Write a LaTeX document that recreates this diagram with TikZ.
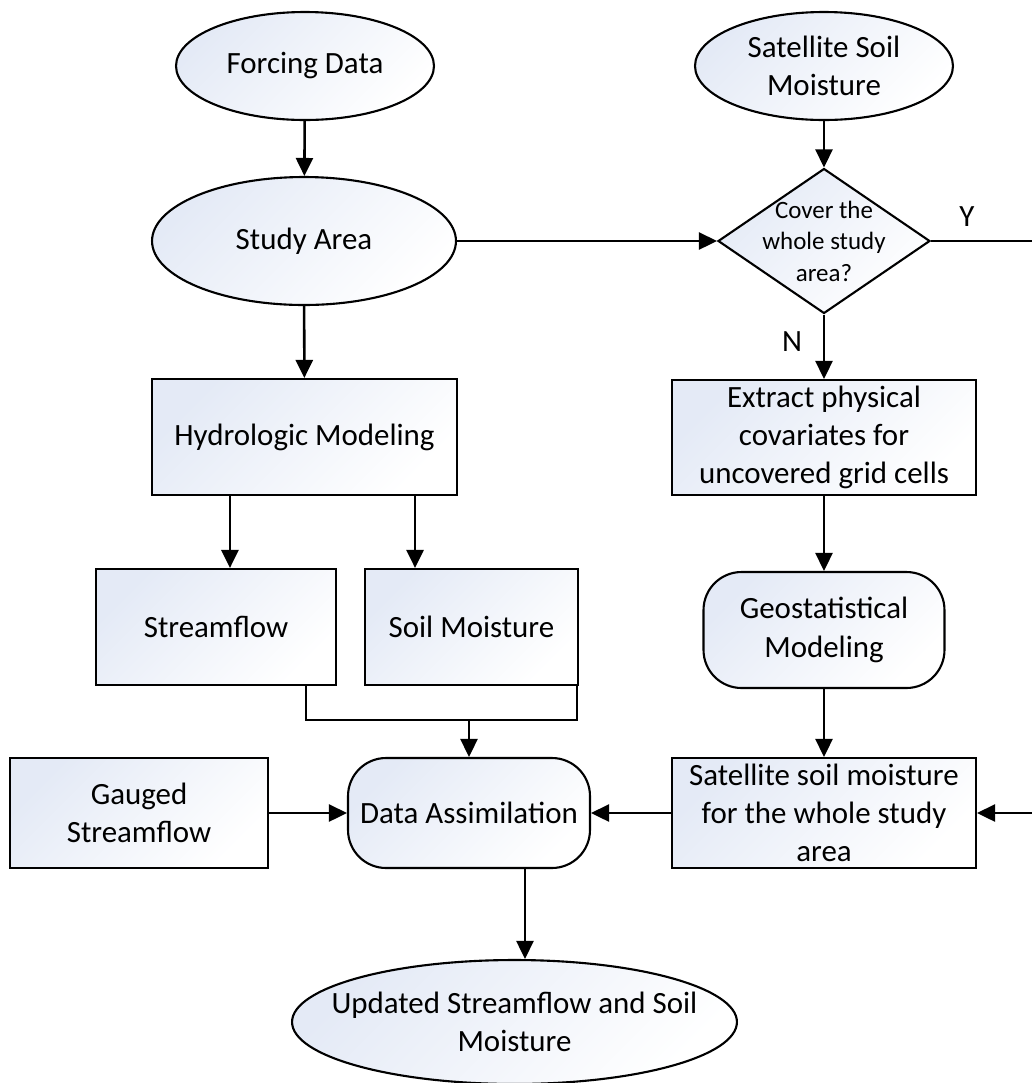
\documentclass[tikz,border=0pt]{standalone}
\usepackage{fontspec}
\setmainfont{Carlito}
\usepackage{tikz}
\usetikzlibrary{shapes.geometric, arrows.meta}
\usepackage{xcolor}
\definecolor{shadeblue}{RGB}{228,234,246}

\begin{document}
\begin{tikzpicture}[x=0.02cm, y=-0.02cm,
    every node/.style={font=\fontsize{17.6}{21.8}\selectfont, align=center, inner sep=0pt},
    shapefill/.style={draw, line width=1.2pt, top color=shadeblue, bottom color=white, shading angle=45},
    oval/.style={shapefill, ellipse},
    box/.style={shapefill, rectangle},
    roundbox/.style={shapefill, rectangle, rounded corners=0.76cm},
    decision/.style={shapefill, diamond, aspect=1.46, inner sep=-0.3cm},
    flow/.style={line width=1.45pt, -{Triangle[length=0.36cm, width=0.34cm]}},
    conn/.style={line width=1.45pt}]

    % Page frame
    \useasboundingbox (0,0) rectangle (1032,1083);
    \clip (0,0) rectangle (1032,1083);

    % Inputs
    \node[oval, minimum width=5.16cm, minimum height=2.16cm] (forcing) at (305,66) {Forcing Data};
    \node[oval, minimum width=5.16cm, minimum height=2.16cm] (satellite) at (824,66) {Satellite Soil\\Moisture};
    \node[oval, minimum width=6.08cm, minimum height=2.56cm] (study) at (304,241) {Study Area};
    \node[decision, minimum width=4.24cm, minimum height=2.9cm,
          font=\fontsize{14.2}{17.9}\selectfont] (cover) at (824,241) {Cover the\\whole study\\area?};

    % Left branch: model
    \node[box, minimum width=6.1cm, minimum height=2.32cm] (hydro) at (304.5,437) {Hydrologic Modeling};
    \node[box, minimum width=4.8cm, minimum height=2.32cm] (stream) at (216,627) {Streamflow};
    \node[box, minimum width=4.26cm, minimum height=2.32cm] (soil) at (471.5,627) {Soil Moisture};

    % Right branch: satellite
    \node[box, minimum width=6.08cm, minimum height=2.3cm] (extract) at (824,437.5) {Extract physical\\covariates for\\uncovered grid cells};
    \node[roundbox, minimum width=4.82cm, minimum height=2.32cm] (geostat) at (824,630) {Geostatistical\\Modeling};
    \node[box, minimum width=6.08cm, minimum height=2.2cm] (satbox) at (824,813) {Satellite soil moisture\\for the whole study\\area};

    % Bottom row
    \node[box, minimum width=5.16cm, minimum height=2.2cm] (gauged) at (139,813) {Gauged\\Streamflow};
    \node[roundbox, minimum width=4.84cm, minimum height=2.2cm] (assim) at (469,813) {Data Assimilation};
    \node[oval, minimum width=8.9cm, minimum height=2.48cm, inner sep=-0.6cm] (updated) at (514.5,1022) {Updated Streamflow and Soil\\Moisture};

    % Y / N labels
    \node (ylabel) at (967,217) {Y};
    \node (nlabel) at (792,342) {N};

    \coordinate (merge) at (469,720);

    % Arrows
    \draw[flow] (forcing) -- (study);
    \draw[flow] (satellite) -- (cover);
    \draw[flow] (study) -- (cover);
    \draw[flow] (cover.east) -- ++(110,0) |- (satbox.east);
    \draw[flow] (cover) -- (extract);
    \draw[flow] (study) -- (hydro);
    \draw[flow] ([xshift=1.58cm]hydro.south west) -- ([xshift=1.58cm]hydro.south west |- stream.north);
    \draw[flow] ([xshift=-0.86cm]hydro.south east) -- ([xshift=-0.86cm]hydro.south east |- soil.north);
    \draw[conn] ([xshift=-0.62cm]stream.south east) |- (merge) -| ([xshift=-0.04cm]soil.south east);
    \draw[flow] (merge) -- (assim.north);
    \draw[flow] (extract) -- (geostat);
    \draw[flow] (geostat) -- (satbox);
    \draw[flow] (gauged) -- (assim);
    \draw[flow] (satbox) -- (assim);
    \draw[flow] ([xshift=1.12cm]assim.south) -- ([xshift=1.12cm]assim.south |- updated.north);

\end{tikzpicture}
\end{document}
